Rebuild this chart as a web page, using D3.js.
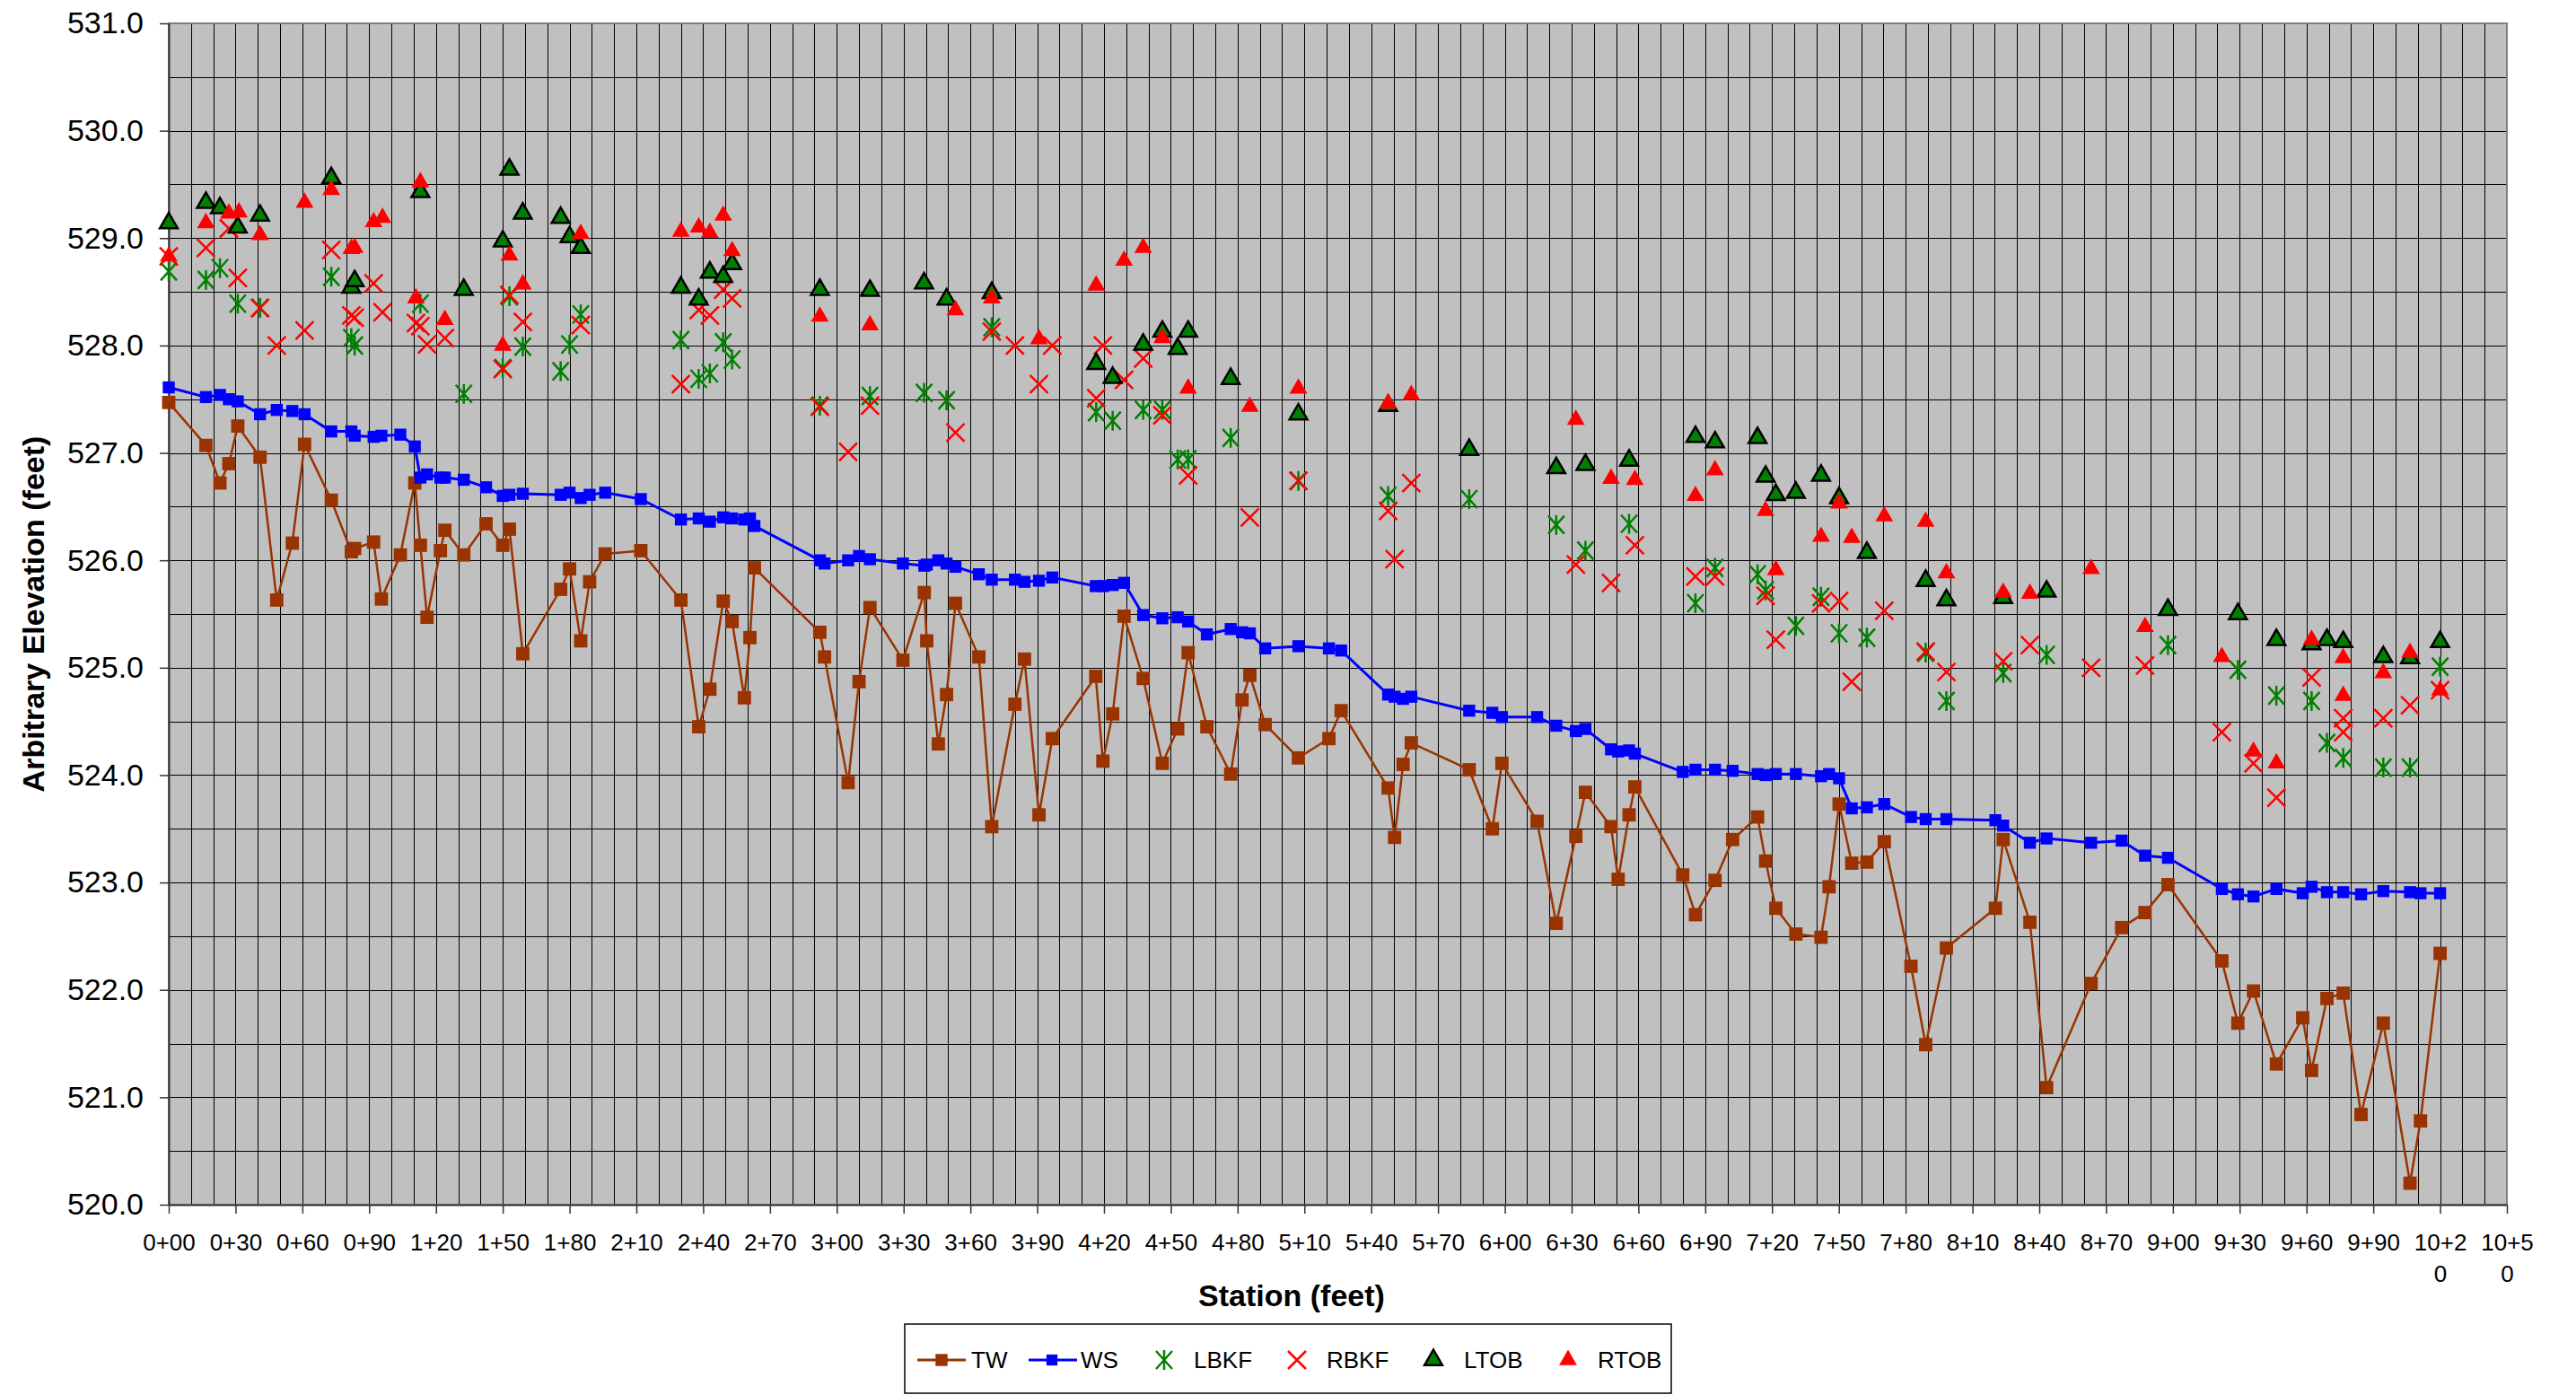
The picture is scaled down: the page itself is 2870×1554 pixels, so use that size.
<!DOCTYPE html>
<html>
<head>
<meta charset="utf-8">
<script src="https://cdn.jsdelivr.net/npm/d3@7"></script>
<style>
body { margin: 0; background: #fff; }
svg { display: block; font-family: "Liberation Sans", Arial, sans-serif; }
</style>
</head>
<body>
<svg id="chart"></svg>
<script>
/* Data */

// Stations (feet) of the thalweg / water surface survey
var station = [0, 16.7, 23, 27, 31, 41, 48.5, 55.5, 61, 73, 82, 83.5, 92, 95.5, 104, 110.5, 113, 116, 122, 124,
    132.5, 142.5, 150, 153, 159, 176, 180, 185, 189, 196, 212, 230, 238, 243, 249, 253, 258.5, 261, 263,
    292.4, 294.5, 305.1, 310, 314.9, 329.7, 339.3, 340.4, 345.6, 349.3, 353.3, 363.8, 369.6, 380, 384.3, 390.8,
    396.8, 416.3, 419.5, 423.9, 429, 437.6, 446.2, 453.1, 457.8, 466.2, 476.9, 482, 485.5, 492.4, 507.3, 521, 526.5,
    547.6, 550.5, 554.3, 558, 584, 594.4, 598.7, 614.5, 623.1, 631.9, 636.2, 647.7, 650.9, 655.8, 658.4, 679.9,
    685.6, 694.4, 702.3, 713.5, 717.1, 721.7, 730.7, 742, 745.6, 750.1, 755.8, 762.6, 770.4, 782.4, 789,
    798.3, 820.3, 823.8, 835.8, 843.3, 863.3, 877, 887.5, 897.8, 922, 929.2, 936.2, 946.5, 958.3, 962.3, 969.2,
    976.5, 984.5, 994.5, 1006.5, 1011.2, 1020];

// Thalweg elevation
var tw = [527.47, 527.07, 526.72, 526.90, 527.25, 526.96, 525.63, 526.16, 527.08, 526.56, 526.08, 526.11, 526.17, 525.64,
    526.05, 526.72, 526.14, 525.47, 526.09, 526.28, 526.05, 526.34, 526.14, 526.29, 525.13, 525.73, 525.92, 525.25,
    525.80, 526.06, 526.09, 525.63, 524.45, 524.80, 525.62, 525.43, 524.72, 525.28, 525.93,
    525.33, 525.10, 523.93, 524.87, 525.56, 525.07, 525.70, 525.25, 524.29, 524.75, 525.60, 525.10, 523.52, 524.66,
    525.08, 523.63, 524.34, 524.92, 524.13, 524.57, 525.48, 524.90, 524.11, 524.43, 525.14, 524.45, 524.01, 524.70,
    524.93, 524.47, 524.16, 524.34, 524.60,
    523.88, 523.42, 524.10, 524.30, 524.05, 523.50, 524.11, 523.57, 522.62, 523.43, 523.84, 523.52, 523.03, 523.63,
    523.89, 523.07, 522.70, 523.02, 523.40, 523.61, 523.20, 522.76, 522.52, 522.49, 522.96, 523.73, 523.18, 523.19,
    523.38, 522.22, 521.49,
    522.39, 522.76, 523.40, 522.63, 521.09, 522.06, 522.58, 522.72, 522.98, 522.27, 521.69, 521.99, 521.31, 521.74,
    521.25, 521.92, 521.97, 520.84, 521.69, 520.20, 520.78, 522.34];

// Water surface elevation
var ws = [527.61, 527.52, 527.54, 527.50, 527.48, 527.36, 527.40, 527.39, 527.36, 527.20, 527.20, 527.16, 527.15, 527.16,
    527.17, 527.06, 526.77, 526.80, 526.77, 526.77, 526.75, 526.68, 526.60, 526.61, 526.62, 526.61, 526.63, 526.58,
    526.61, 526.63, 526.57, 526.38, 526.39, 526.36, 526.40, 526.39, 526.38, 526.39, 526.32,
    526.00, 525.97, 526.00, 526.04, 526.01, 525.97, 525.95, 525.96, 526.00, 525.97, 525.94, 525.87, 525.82, 525.82,
    525.80, 525.81, 525.84, 525.76, 525.76, 525.77, 525.79, 525.49, 525.46, 525.47, 525.43, 525.31, 525.36, 525.33,
    525.32, 525.18, 525.20, 525.18, 525.16,
    524.75, 524.73, 524.71, 524.73, 524.60, 524.58, 524.54, 524.54, 524.46, 524.41, 524.43, 524.24, 524.22, 524.23,
    524.20, 524.03, 524.05, 524.05, 524.04, 524.01, 524.00, 524.01, 524.01, 523.99, 524.01, 523.97, 523.69, 523.70,
    523.73, 523.61, 523.59,
    523.59, 523.58, 523.53, 523.37, 523.41, 523.37, 523.39, 523.25, 523.23, 522.94, 522.89, 522.87, 522.94, 522.90,
    522.96, 522.91, 522.91, 522.89, 522.92, 522.91, 522.90, 522.90];

// Left bankfull [station, elevation]
var lbkf = [[0,528.69],[16.7,528.61],[23,528.72],[31,528.39],[41,528.35],[73,528.64],[82,528.07],[83.5,528.00],
    [113,528.39],[132.5,527.55],[150,527.79],[153,528.46],[159,527.99],[176,527.76],[180,528.01],[185,528.29],
    [230,528.05],[238,527.69],[243,527.74],[249,528.03],[253,527.87],
    [292.4,527.44],[314.9,527.53],[339.2,527.56],[349.3,527.49],[369.6,528.17],[416.5,527.38],[423.9,527.30],
    [437.6,527.40],[446.2,527.40],[453.1,526.94],[457.8,526.94],[476.9,527.14],[507.3,526.74],
    [547.6,526.60],[584,526.57],[623.1,526.33],[636.2,526.09],[655.8,526.34],[685.6,525.60],[694.4,525.93],
    [713.5,525.87],[717.1,525.72],[730.7,525.39],[742,525.66],[750.1,525.32],[762.6,525.28],[789,525.14],
    [798.3,524.69],[823.8,524.95],[843.3,525.12],[897.8,525.21],[929.2,524.98],[946.5,524.74],[962.3,524.69],
    [969.2,524.30],[976.5,524.16],[994.5,524.07],[1006.5,524.07],[1020,525.01]];

// Right bankfull
var rbkf = [[0,528.83],[16.7,528.91],[27,529.09],[31,528.63],[41,528.35],[48.5,528.00],[61,528.14],[73,528.89],
    [82,528.28],[83.5,528.26],[92,528.58],[96,528.31],[111,528.21],[113,528.18],[116,528.01],[124,528.07],
    [150,527.78],[153,528.47],[159,528.22],[185,528.19],[230,527.64],[238,528.33],[243,528.28],[249,528.52],[253,528.44],
    [292.4,527.43],[305.1,527.01],[314.9,527.44],[353.3,527.19],[369.6,528.13],[380,528.00],[390.8,527.64],
    [396.8,528.00],[416.5,527.51],[419.5,528.00],[429,527.68],[437.6,527.88],[446.2,527.35],[457.8,526.79],
    [485.5,526.40],[507.3,526.74],
    [547.6,526.46],[550.5,526.01],[558,526.72],[631.9,525.96],[647.7,525.79],[658.4,526.14],[685.6,525.85],
    [694.4,525.85],[717.1,525.67],[721.7,525.26],[742,525.60],[750.1,525.62],[755.8,524.87],[770.4,525.53],[789,525.15],
    [798.3,524.96],[823.8,525.06],[835.8,525.21],[863.3,525.00],[887.5,525.02],[922,524.40],[936.2,524.11],
    [946.5,523.79],[962.3,524.91],[976.5,524.53],[976.5,524.40],[994.5,524.53],[1006.5,524.65],[1020,524.79]];

// Left top of bank
var ltob = [[0,529.14],[16.7,529.33],[23,529.28],[31,529.10],[41,529.21],[73,529.56],[82,528.54],[83.5,528.60],
    [113,529.43],[132.5,528.52],[150,528.97],[153,529.64],[159,529.23],[176,529.19],[180,529.01],[185,528.91],
    [230,528.54],[238,528.43],[243,528.68],[249,528.64],[253,528.76],
    [292.4,528.52],[314.9,528.51],[339.2,528.58],[349.3,528.43],[369.6,528.49],[416.5,527.83],[423.9,527.70],
    [437.6,528.01],[446.2,528.13],[453.1,527.97],[457.8,528.13],[476.9,527.69],[507.3,527.36],
    [547.6,527.44],[584,527.03],[623.1,526.86],[636.2,526.89],[655.8,526.93],[685.6,527.15],[694.4,527.10],
    [713.5,527.14],[717.1,526.78],[721.7,526.61],[730.7,526.63],[742,526.79],[750.1,526.58],[762.6,526.07],[789,525.81],
    [798.3,525.63],[823.8,525.65],[843.3,525.71],[897.8,525.54],[929.2,525.50],[946.5,525.26],[962.3,525.22],
    [969.2,525.26],[976.5,525.24],[994.5,525.10],[1006.5,525.09],[1020,525.24]];

// Right top of bank
var rtob = [[0,528.83],[16.7,529.14],[27,529.23],[31.5,529.24],[41,529.03],[61,529.33],[73,529.45],[82,528.90],
    [83.5,528.91],[92,529.15],[96,529.19],[111,528.44],[113,529.52],[124,528.24],[150,528.00],[153,528.84],
    [159,528.57],[185,529.04],[230,529.06],[238,529.10],[243,529.05],[249,529.21],[253,528.88],
    [292.4,528.27],[314.9,528.19],[353.3,528.33],[369.6,528.44],[390.8,528.06],[416.5,528.56],[429,528.79],
    [437.6,528.91],[446.2,528.07],[457.8,527.60],[485.5,527.43],[507.3,527.60],
    [547.6,527.46],[558,527.54],[631.9,527.31],[647.7,526.76],[658.4,526.75],[685.6,526.60],[694.4,526.84],
    [717.1,526.46],[721.7,525.91],[742,526.22],[750.1,526.53],[755.8,526.21],[770.4,526.41],[789,526.36],
    [798.3,525.88],[823.8,525.70],[835.8,525.69],[863.3,525.92],[887.5,525.38],[922,525.10],[936.2,524.22],
    [946.5,524.11],[962.3,525.26],[976.5,525.09],[976.5,524.74],[994.5,524.95],[1006.5,525.14],[1020,524.79]];

// Ticks
var xTicks = [0, 30, 60, 90, 120, 150, 180, 210, 240, 270, 300, 330, 360, 390, 420, 450, 480, 510, 540, 570,
    600, 630, 660, 690, 720, 750, 780, 810, 840, 870, 900, 930, 960, 990, 1020, 1050];
var yTicks = [520, 521, 522, 523, 524, 525, 526, 527, 528, 529, 530, 531];


/* Layout */

var W = 2870, H = 1554;
var plotL = 188, plotT = 26, plotR = 2793, plotB = 1342;

var svg = d3.select("#chart")
    .attr("width", W)
    .attr("height", H)
    .style("background", "#fff");

var x = d3.scaleLinear().domain([0, 1050]).range([plotL, plotR]);
var y = d3.scaleLinear().domain([520, 531]).range([plotB, plotT]);

// Plot background
svg.append("rect")
    .attr("x", plotL).attr("y", plotT)
    .attr("width", plotR - plotL).attr("height", plotB - plotT)
    .attr("fill", "#c0c0c0");

// Grid: every 10 ft and every 0.5 ft
var grid = svg.append("g").attr("stroke", "#000").attr("stroke-width", 1);
grid.selectAll(".vg").data(d3.range(10, 1050, 10)).enter().append("line")
    .attr("x1", function(d){ return Math.round(x(d)) + 0.5; })
    .attr("x2", function(d){ return Math.round(x(d)) + 0.5; })
    .attr("y1", plotT).attr("y2", plotB);
grid.selectAll(".hg").data(d3.range(520.5, 531, 0.5)).enter().append("line")
    .attr("y1", function(d){ return Math.round(y(d)) + 0.5; })
    .attr("y2", function(d){ return Math.round(y(d)) + 0.5; })
    .attr("x1", plotL).attr("x2", plotR);

// Frame
svg.append("rect")
    .attr("x", plotL).attr("y", plotT)
    .attr("width", plotR - plotL).attr("height", plotB - plotT)
    .attr("fill", "none").attr("stroke", "#808080").attr("stroke-width", 2);

// Axes
function fmtStation(s){
    var ft = s % 100;
    return Math.floor(s / 100) + "+" + (ft < 10 ? "0" : "") + ft;
}

var yAxis = svg.append("g")
    .attr("transform", "translate(" + plotL + ",0)")
    .call(d3.axisLeft(y).tickValues(yTicks).tickFormat(d3.format(".1f")).tickSize(10).tickSizeOuter(0).tickPadding(18));
yAxis.selectAll("text").attr("font-size", 34).attr("fill", "#000").attr("font-family", "Liberation Sans, Arial, sans-serif");

var xAxis = svg.append("g")
    .attr("transform", "translate(0," + plotB + ")")
    .call(d3.axisBottom(x).tickValues(xTicks).tickFormat(fmtStation).tickSize(10).tickSizeOuter(0));
xAxis.selectAll(".tick text").each(function(d){
    var label = fmtStation(d);
    var t = d3.select(this).text(null)
        .attr("y", 51).attr("dy", null)
        .attr("font-size", 26).attr("fill", "#000").attr("font-family", "Liberation Sans, Arial, sans-serif");
    // long labels wrap onto a second line
    t.append("tspan").attr("x", 0).text(label.slice(0, 4));
    if (label.length > 4) t.append("tspan").attr("x", 0).attr("dy", 35).text(label.slice(4));
});

svg.selectAll(".domain").attr("stroke", "#333").attr("stroke-width", 2);
svg.selectAll(".tick line").attr("stroke", "#333").attr("stroke-width", 1.5);

// Axis titles
svg.append("text")
    .attr("x", 1439).attr("y", 1455)
    .attr("text-anchor", "middle")
    .attr("font-size", 34).attr("font-weight", "bold")
    .text("Station (feet)");

svg.append("text")
    .attr("transform", "translate(49," + (plotT + plotB) / 2 + ") rotate(-90)")
    .attr("text-anchor", "middle")
    .attr("font-size", 34).attr("font-weight", "bold")
    .text("Arbitrary Elevation (feet)");


/* Marks */

var crossPath = "M-10,-10L10,10M-10,10L10,-10";
var starPath = "M-9,-10L9,10M-9,10L9,-10M0,-11L0,11";
var square = function(s){ return d3.symbol().type(d3.symbolSquare).size(s)(); };
var triangle = d3.symbol().type(d3.symbolTriangle).size(170)();

var profile = [
    { name: "TW", values: tw, color: "#993300", width: 2.5, size: 220 },
    { name: "WS", values: ws, color: "#0000ff", width: 3, size: 180 }
];

profile.forEach(function(p){
    var pts = station.map(function(s, i){ return [s, p.values[i]]; });
    svg.append("path")
        .datum(pts)
        .attr("fill", "none")
        .attr("stroke", p.color)
        .attr("stroke-width", p.width)
        .attr("stroke-linejoin", "round")
        .attr("d", d3.line().x(function(d){ return x(d[0]); }).y(function(d){ return y(d[1]); }));
    svg.append("g").selectAll("path").data(pts).enter().append("path")
        .attr("transform", function(d){ return "translate(" + x(d[0]) + "," + y(d[1]) + ")"; })
        .attr("d", square(p.size))
        .attr("fill", p.color);
});

function scatter(data, path, fill, stroke, sw){
    svg.append("g").selectAll("path").data(data).enter().append("path")
        .attr("transform", function(d){ return "translate(" + x(d[0]) + "," + y(d[1]) + ")"; })
        .attr("d", path)
        .attr("fill", fill)
        .attr("stroke", stroke)
        .attr("stroke-width", sw);
}

scatter(lbkf, starPath, "none", "#008000", 2.5);
scatter(rbkf, crossPath, "none", "#ff0000", 2.5);
scatter(ltob, triangle, "#008000", "#000", 2.5);
scatter(rtob, triangle, "#ff0000", "none", 0);


/* Legend */

var legend = svg.append("g");
legend.append("rect")
    .attr("x", 1008).attr("y", 1475)
    .attr("width", 854).attr("height", 77)
    .attr("fill", "#fff").attr("stroke", "#000").attr("stroke-width", 1.5);

var ly = 1515;
var items = [
    { name: "TW", mx: 1049, tx: 1082, line: [1022, 1076], d: square(180), fill: "#993300", stroke: "none", sw: 0, lc: "#993300" },
    { name: "WS", mx: 1172, tx: 1204, line: [1146, 1200], d: square(150), fill: "#0000ff", stroke: "none", sw: 0, lc: "#0000ff" },
    { name: "LBKF", mx: 1297, tx: 1330, d: starPath, fill: "none", stroke: "#008000", sw: 2.5 },
    { name: "RBKF", mx: 1445, tx: 1478, d: crossPath, fill: "none", stroke: "#ff0000", sw: 2.5 },
    { name: "LTOB", mx: 1597, tx: 1631, d: triangle, fill: "#008000", stroke: "#000", sw: 2.5 },
    { name: "RTOB", mx: 1747, tx: 1780, d: triangle, fill: "#ff0000", stroke: "none", sw: 0 }
];

items.forEach(function(it){
    if (it.line) {
        legend.append("line")
            .attr("x1", it.line[0]).attr("x2", it.line[1])
            .attr("y1", ly).attr("y2", ly)
            .attr("stroke", it.lc).attr("stroke-width", 3);
    }
    legend.append("path")
        .attr("transform", "translate(" + it.mx + "," + ly + ")")
        .attr("d", it.d)
        .attr("fill", it.fill)
        .attr("stroke", it.stroke)
        .attr("stroke-width", it.sw);
    legend.append("text")
        .attr("x", it.tx).attr("y", ly).attr("dy", "0.35em")
        .attr("font-size", 26)
        .text(it.name);
});
</script>
</body>
</html>
